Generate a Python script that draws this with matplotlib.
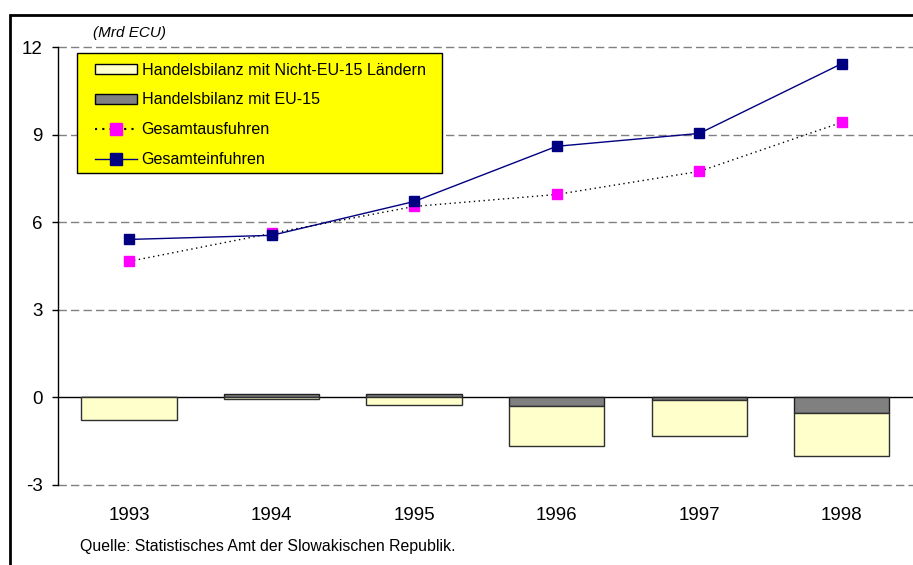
"""Handelsbilanz und Gesamtaus-/einfuhren der Slowakei, 1993-1998."""

import matplotlib
matplotlib.use("Agg")
import matplotlib.pyplot as plt
from matplotlib.lines import Line2D
from matplotlib.patches import Patch, Rectangle
import numpy as np

plt.rcParams["font.family"] = ["Liberation Sans", "DejaVu Sans"]

# --- data -----------------------------------------------------------------------------------------

years = ["1993", "1994", "1995", "1996", "1997", "1998"]
bilanz_eu15 = [0.0, 0.12, 0.13, -0.31, -0.10, -0.52]
bilanz_nicht_eu15 = [-0.77, -0.06, -0.27, -1.37, -1.21, -1.50]
ausfuhren = [4.66, 5.62, 6.54, 6.95, 7.74, 9.42]
einfuhren = [5.41, 5.55, 6.71, 8.60, 9.04, 11.43]
yticks = [-3, 0, 3, 6, 9, 12]

# --- plot -----------------------------------------------------------------------------------------

yellow = "#ffffcc"
grey = "#808080"
navy = "#000080"
magenta = "#ff00ff"

fig = plt.figure(figsize=(9.13, 5.65), dpi=100)
ax = fig.add_axes([0.0635, 0.1416, 0.9365, 0.7752])

x = np.arange(len(years))
eu = np.array(bilanz_eu15)
neu = np.array(bilanz_nicht_eu15)
# stack: grey nearest to zero, yellow beyond it on the same side
neu_bottom = np.where((eu < 0) & (neu < 0), eu, 0.0)
w = 0.67
ax.bar(x, eu, w, color=grey, edgecolor="#202020", lw=1, zorder=3)
ax.bar(x, neu, w, bottom=neu_bottom, color=yellow, edgecolor="#303030", lw=1, zorder=3)

ax.plot(x, ausfuhren, color="black", ls=(0, (1, 2.5)), lw=1, marker="s", ms=7,
        mfc=magenta, mec=magenta, zorder=4)
ax.plot(x, einfuhren, color=navy, lw=1, marker="s", ms=7, mfc=navy, mec=navy, zorder=5)

ax.set_xlim(-0.5, len(years) - 0.5)
ax.set_ylim(-3, 12)
ax.set_yticks(yticks)
ax.set_yticklabels([str(t) for t in yticks], fontsize=13.5)
ax.tick_params(axis="y", direction="out", length=4.5, width=1, pad=6.5)
ax.set_xticks([])
for i, yr in enumerate(years):
    ax.text(i, -4.05, yr, ha="center", va="center", fontsize=13.5)

for t in [-3, 3, 6, 9, 12]:
    ax.axhline(t, color="#808080", lw=1, ls=(0, (6, 3)), zorder=1, clip_on=False)
ax.axhline(0, color="black", lw=1, zorder=2)
for s in ["top", "right", "bottom"]:
    ax.spines[s].set_visible(False)
ax.spines["left"].set_linewidth(1)

fig.text(93 / 913, 1 - 33 / 565, "(Mrd ECU)", fontsize=11, style="italic",
         ha="left", va="center")

# legend: yellow box drawn at its own place, entries laid over it
ax.add_patch(Rectangle((0.0222, 0.7123), 0.4268, 0.274, transform=ax.transAxes,
                       facecolor="#ffff00", edgecolor="black", lw=1, zorder=6))
handles = [
    Patch(facecolor=yellow, edgecolor="black", lw=1),
    Patch(facecolor=grey, edgecolor="black", lw=1),
    Line2D([], [], color="black", ls=(0, (1, 2.5)), lw=1.5, marker="s", ms=8,
           mfc=magenta, mec=magenta),
    Line2D([], [], color=navy, lw=1, marker="s", ms=8, mfc=navy, mec=navy),
]
labels = ["Handelsbilanz mit Nicht-EU-15 Ländern", "Handelsbilanz mit EU-15",
          "Gesamtausfuhren", "Gesamteinfuhren"]
leg = ax.legend(handles, labels, loc="upper left", bbox_to_anchor=(0.0433, 0.9646),
                fontsize=11.6, frameon=False, handlelength=2.6, handleheight=0.6,
                labelspacing=0.93, borderpad=0, handletextpad=0.3, borderaxespad=0)
leg.set_zorder(7)

fig.text(80 / 913, 1 - 546 / 565, "Quelle: Statistisches Amt der Slowakischen Republik.",
         fontsize=11.4, ha="left", va="center")

# outer frame of the original figure
fig.patches.append(Rectangle((10 / 913, -0.1), 1.2, 1 - 15 / 565 + 0.1,
                             transform=fig.transFigure, fill=False, edgecolor="black",
                             lw=2, zorder=10))

fig.savefig("out.png", dpi=100)
